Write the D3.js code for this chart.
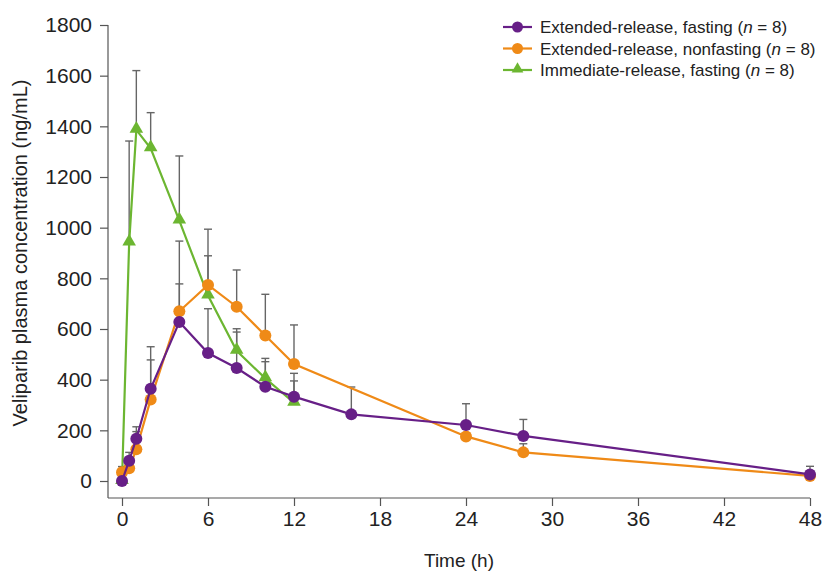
<!DOCTYPE html>
<html>
<head>
<meta charset="utf-8">
<script src="https://cdn.jsdelivr.net/npm/d3@7"></script>
<style>
  body { margin: 0; background: #fff; }
  svg text { font-family: "Liberation Sans", Arial, sans-serif; fill: #222; }
  .tick text { font-family: "Liberation Sans Narrow", "Liberation Sans", Arial, sans-serif; }
</style>
</head>
<body>
<div id="chart"></div>
<script>
// time points (h) and mean / upper SD values
var erFastTime = [0, 0.5, 1, 2, 4, 6, 8, 10, 12, 16, 24, 28, 48];
var erFastMean = [0, 80, 167, 364, 628, 505, 446, 372, 333, 263, 221, 178, 26];
var erFastUpper = [null, 113, 214, 530, 778, 680, 588, 471, 395, 371, 305, 243, 58];

var erFedTime = [0, 0.5, 1, 2, 4, 6, 8, 10, 12, 24, 28, 48];
var erFedMean = [35, 50, 125, 322, 670, 774, 688, 574, 462, 176, 113, 20];
var erFedUpper = [57, null, 195, 478, 947, 994, 833, 737, 616, null, 147, null];

var irFastTime = [0, 0.5, 1, 2, 4, 6, 8, 10, 12];
var irFastMean = [0, 941, 1386, 1313, 1028, 732, 514, 405, 309];
var irFastUpper = [null, 1342, 1620, 1454, 1283, 889, 601, 484, 425];

var xTicks = [0, 6, 12, 18, 24, 30, 36, 42, 48];
var yTicks = [0, 200, 400, 600, 800, 1000, 1200, 1400, 1600, 1800];

var seriesNames = ["Extended-release, fasting", "Extended-release, nonfasting", "Immediate-release, fasting"];
var seriesColors = ["#671f87", "#ef8a17", "#6cb631"];

var svgWidth = 822, svgHeight = 572;
var axisX = 108, axisY = 498;

var svg = d3.select("#chart").append("svg")
    .attr("width", svgWidth)
    .attr("height", svgHeight);

var x = d3.scaleLinear().domain([0, 48]).range([122, 810]);
var y = d3.scaleLinear().domain([0, 1800]).range([481, 25]);

// axes
var xAxis = svg.append("g")
    .attr("transform", `translate(0, ${axisY})`)
    .call(d3.axisBottom(x).tickValues(xTicks).tickFormat(d3.format("d"))
        .tickSize(8).tickSizeOuter(0).tickPadding(5));
xAxis.select(".domain").attr("d", `M${axisX},0H${x(48)}`);

var yAxis = svg.append("g")
    .attr("transform", `translate(${axisX}, 0)`)
    .call(d3.axisLeft(y).tickValues(yTicks).tickFormat(d3.format("d"))
        .tickSize(8).tickSizeOuter(0).tickPadding(8));
yAxis.select(".domain").attr("d", `M0,${y(1800)}V${axisY}`);

svg.selectAll(".tick text").style("font-size", "21px").attr("fill", "#222");
svg.selectAll(".domain, .tick line").attr("stroke", "#555").attr("stroke-width", 1.2);

svg.append("text")
    .attr("x", 459)
    .attr("y", 567)
    .attr("text-anchor", "middle")
    .style("font-size", "19px")
    .text("Time (h)");

svg.append("text")
    .attr("transform", "translate(27, 253) rotate(-90)")
    .attr("text-anchor", "middle")
    .style("font-size", "20px")
    .text("Veliparib plasma concentration (ng/mL)");

function zip(t, m, u) {
    return t.map((d, i) => ({ t: d, v: m[i], up: u[i] }));
}

var series = [
    { data: zip(erFastTime, erFastMean, erFastUpper), shape: "circle" },
    { data: zip(erFedTime, erFedMean, erFedUpper), shape: "circle" },
    { data: zip(irFastTime, irFastMean, irFastUpper), shape: "triangle" }
];

// error bars first so lines sit on top
series.forEach(function(s) {
    var bars = svg.append("g").selectAll("g")
        .data(s.data.filter(d => d.up != null))
        .enter().append("g");
    bars.append("line")
        .attr("x1", d => x(d.t)).attr("x2", d => x(d.t))
        .attr("y1", d => y(d.v)).attr("y2", d => y(d.up))
        .attr("stroke", "#666").attr("stroke-width", 1.4);
    bars.append("line")
        .attr("x1", d => x(d.t) - 4).attr("x2", d => x(d.t) + 4)
        .attr("y1", d => y(d.up)).attr("y2", d => y(d.up))
        .attr("stroke", "#666").attr("stroke-width", 1.4);
});

var line = d3.line().x(d => x(d.t)).y(d => y(d.v));
var tri = d3.symbol().type(d3.symbolTriangle).size(80);

// draw the green one first, then orange, then purple on top
[2, 1, 0].forEach(function(i) {
    var s = series[i];
    var g = svg.append("g");
    g.append("path")
        .datum(s.data)
        .attr("d", line)
        .attr("fill", "none")
        .attr("stroke", seriesColors[i])
        .attr("stroke-width", 2.2);
    if (s.shape == "circle") {
        g.selectAll("circle").data(s.data).enter().append("circle")
            .attr("cx", d => x(d.t)).attr("cy", d => y(d.v))
            .attr("r", 6)
            .attr("fill", seriesColors[i]);
    } else {
        g.selectAll("path.pt").data(s.data).enter().append("path")
            .attr("class", "pt")
            .attr("d", tri)
            .attr("transform", d => `translate(${x(d.t)}, ${y(d.v) - 1})`)
            .attr("fill", seriesColors[i]);
    }
});

// legend
var legend = svg.append("g").attr("transform", "translate(503, 27)");
seriesNames.forEach(function(name, i) {
    var row = legend.append("g").attr("transform", `translate(0, ${i * 21.5})`);
    row.append("line")
        .attr("x1", 0).attr("x2", 29).attr("y1", 0).attr("y2", 0)
        .attr("stroke", seriesColors[i]).attr("stroke-width", 2.2);
    if (i < 2) {
        row.append("circle").attr("cx", 14.5).attr("cy", 0).attr("r", 5.5).attr("fill", seriesColors[i]);
    } else {
        row.append("path").attr("d", d3.symbol().type(d3.symbolTriangle).size(60))
            .attr("transform", "translate(14.5, -1)").attr("fill", seriesColors[i]);
    }
    var txt = row.append("text")
        .attr("x", 37).attr("y", 6)
        .style("font-size", "17px");
    txt.append("tspan").text(name + " (");
    txt.append("tspan").style("font-style", "italic").text("n");
    txt.append("tspan").text(" = 8)");
});
</script>
</body>
</html>
